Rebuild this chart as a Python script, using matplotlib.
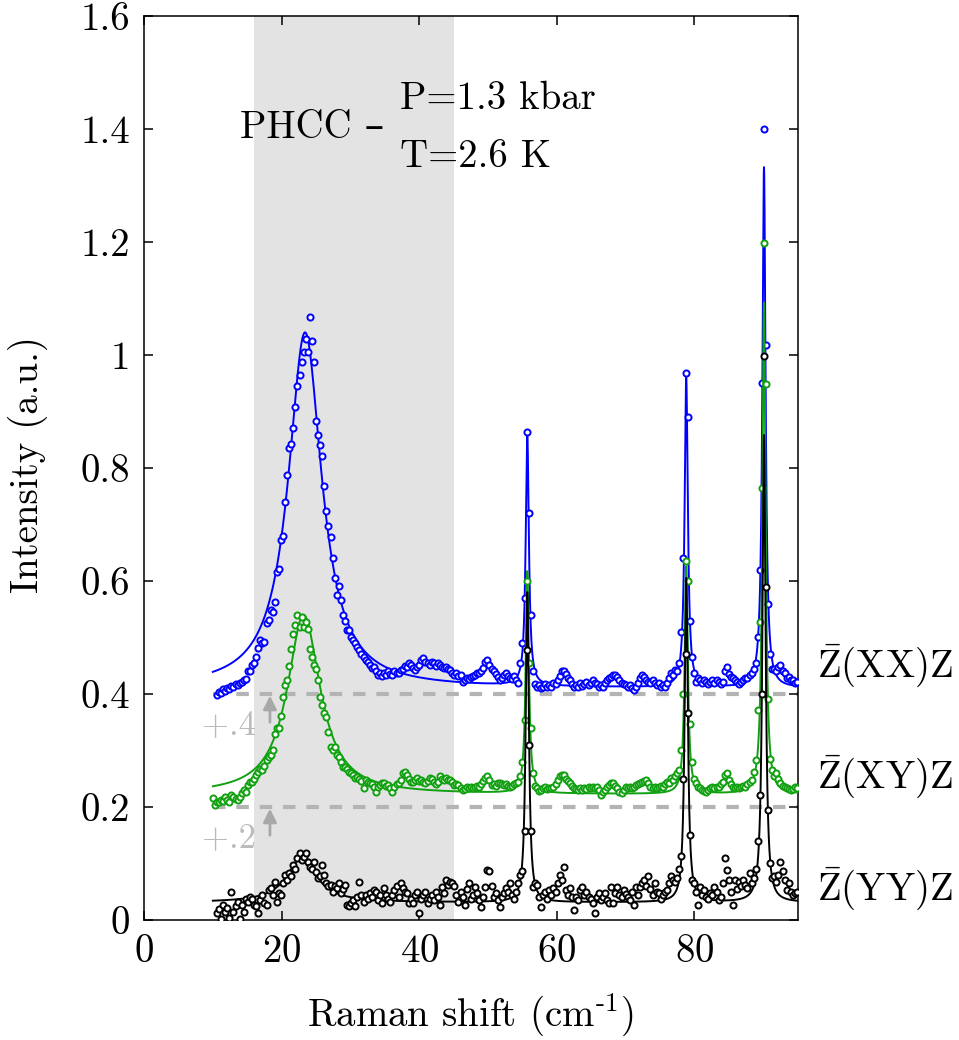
import numpy as np
import matplotlib
matplotlib.use("Agg")
import matplotlib.pyplot as plt

plt.rcParams['font.family'] = ['cmr10', 'DejaVu Serif']
plt.rcParams['mathtext.fontset'] = 'cm'
plt.rcParams['axes.formatter.use_mathtext'] = True
plt.rcParams['axes.unicode_minus'] = False

nan = np.nan
# ---------------- data ----------------
shift_start = 10.0   # cm^-1, first sample
shift_step = 0.3     # cm^-1, sampling step

xx_intensity = [
 nan, nan, 0.399, 0.404, 0.402, 0.409, 0.406, 0.411, 0.409, 0.414,
 0.412, 0.418, 0.416, 0.420, 0.422, 0.424, 0.427, 0.440, 0.441, 0.452,
 0.454, 0.466, 0.481, 0.496, 0.490, 0.492, 0.525, 0.531, 0.549, 0.546,
 0.562, 0.616, 0.622, 0.673, 0.680, 0.740, 0.788, 0.836, 0.842, 0.871,
 0.908, 0.946, 0.964, 0.987, 1.006, 1.028, 1.005, 1.068, 1.025, 0.987,
 0.884, 0.858, 0.841, 0.822, 0.768, 0.724, 0.698, 0.677, 0.640, 0.605,
 0.576, 0.592, 0.566, 0.540, 0.530, 0.513, 0.513, 0.500, 0.496, 0.490,
 0.484, 0.478, 0.470, 0.466, 0.460, 0.457, 0.452, 0.446, 0.448, 0.440,
 0.434, 0.437, 0.431, 0.437, 0.434, 0.440, 0.436, 0.434, 0.441, 0.437,
 0.437, 0.442, 0.445, 0.450, 0.448, 0.454, 0.452, 0.446, 0.442, 0.448,
 0.452, 0.460, 0.463, 0.457, 0.455, 0.451, 0.457, 0.454, 0.449, 0.454,
 0.451, 0.448, 0.446, 0.448, 0.444, 0.442, 0.438, 0.434, 0.437, 0.431,
 0.434, 0.422, 0.425, 0.428, 0.426, 0.430, 0.432, 0.434, 0.437, 0.437,
 0.440, 0.446, 0.457, 0.460, 0.452, 0.444, 0.440, 0.436, 0.430, 0.425,
 0.428, 0.434, 0.437, 0.432, 0.428, 0.426, 0.432, 0.425, 0.419, 0.455,
 0.490, 0.570, 0.863, 0.720, 0.540, 0.440, 0.418, 0.413, 0.416, 0.410,
 0.413, 0.418, 0.413, 0.416, 0.413, 0.420, 0.418, 0.425, 0.432, 0.440,
 0.440, 0.436, 0.428, 0.425, 0.418, 0.413, 0.416, 0.413, 0.420, 0.415,
 0.418, 0.422, 0.416, 0.420, 0.424, 0.420, 0.418, 0.413, 0.416, 0.413,
 0.420, 0.425, 0.428, 0.430, 0.434, 0.434, 0.430, 0.424, 0.420, 0.418,
 0.416, 0.413, 0.416, 0.410, 0.407, 0.412, 0.420, 0.428, 0.434, 0.430,
 0.425, 0.422, 0.420, 0.424, 0.420, 0.416, 0.420, 0.413, 0.416, 0.413,
 0.420, 0.428, 0.437, 0.434, 0.442, 0.440, 0.455, 0.510, 0.640, 0.969,
 0.890, 0.530, 0.465, 0.437, 0.422, 0.428, 0.425, 0.420, 0.424, 0.422,
 0.418, 0.422, 0.425, 0.420, 0.425, 0.422, 0.418, 0.422, 0.440, 0.448,
 0.436, 0.430, 0.428, 0.424, 0.422, 0.418, 0.422, 0.425, 0.428, 0.428,
 0.433, 0.437, 0.445, 0.454, 0.500, 0.620, 0.950, 1.400, 1.018, 0.560,
 0.470, 0.445, 0.445, 0.440, 0.448, 0.451, 0.440, 0.437, 0.428, 0.430,
 0.425, 0.425, 0.420, 0.422]

xy_intensity = [
 0.216, 0.204, 0.209, 0.209, 0.212, 0.210, 0.218, 0.212, 0.209, 0.221,
 0.218, 0.215, 0.212, 0.218, 0.224, 0.230, 0.226, 0.239, 0.245, 0.245,
 0.250, 0.257, 0.262, 0.268, 0.266, 0.272, 0.284, 0.288, 0.292, 0.301,
 0.330, 0.339, 0.339, 0.361, 0.395, 0.416, 0.425, 0.450, 0.479, 0.507,
 0.522, 0.540, 0.519, 0.537, 0.519, 0.528, 0.515, 0.480, 0.466, 0.451,
 0.445, 0.425, 0.395, 0.380, 0.366, 0.360, 0.333, 0.307, 0.301, 0.307,
 0.292, 0.289, 0.280, 0.271, 0.270, 0.268, 0.262, 0.260, 0.257, 0.251,
 0.253, 0.250, 0.246, 0.233, 0.248, 0.244, 0.242, 0.240, 0.236, 0.227,
 0.235, 0.239, 0.242, 0.242, 0.237, 0.239, 0.233, 0.227, 0.236, 0.240,
 0.242, 0.248, 0.260, 0.262, 0.257, 0.250, 0.245, 0.244, 0.248, 0.251,
 0.246, 0.248, 0.244, 0.242, 0.246, 0.251, 0.250, 0.245, 0.241, 0.245,
 0.254, 0.250, 0.248, 0.251, 0.247, 0.248, 0.244, 0.239, 0.241, 0.239,
 0.234, 0.230, 0.232, 0.236, 0.233, 0.235, 0.233, 0.236, 0.238, 0.236,
 0.240, 0.246, 0.251, 0.254, 0.248, 0.239, 0.241, 0.238, 0.242, 0.242,
 0.240, 0.239, 0.241, 0.238, 0.236, 0.238, 0.240, 0.242, 0.245, 0.255,
 0.280, 0.354, 0.600, 0.455, 0.339, 0.260, 0.238, 0.233, 0.228, 0.230,
 0.233, 0.236, 0.232, 0.234, 0.233, 0.236, 0.240, 0.248, 0.254, 0.257,
 0.257, 0.250, 0.246, 0.242, 0.238, 0.233, 0.232, 0.230, 0.234, 0.230,
 0.233, 0.232, 0.235, 0.233, 0.236, 0.234, 0.236, 0.230, 0.221, 0.226,
 0.230, 0.236, 0.239, 0.242, 0.242, 0.238, 0.234, 0.226, 0.224, 0.230,
 0.236, 0.233, 0.236, 0.234, 0.236, 0.239, 0.240, 0.242, 0.244, 0.246,
 0.248, 0.243, 0.236, 0.233, 0.235, 0.233, 0.236, 0.238, 0.236, 0.240,
 0.245, 0.243, 0.251, 0.248, 0.255, 0.260, 0.265, 0.300, 0.400, 0.635,
 0.600, 0.347, 0.280, 0.250, 0.242, 0.236, 0.233, 0.230, 0.229, 0.227,
 0.230, 0.233, 0.236, 0.233, 0.236, 0.236, 0.240, 0.245, 0.256, 0.260,
 0.248, 0.240, 0.236, 0.234, 0.236, 0.233, 0.236, 0.238, 0.236, 0.240,
 0.245, 0.248, 0.262, 0.283, 0.372, 0.528, 0.765, 1.199, 0.949, 0.392,
 0.285, 0.265, 0.254, 0.260, 0.250, 0.242, 0.238, 0.236, 0.233, 0.232,
 0.230, 0.232, 0.236, 0.234]

yy_intensity = [
 nan, nan, 0.012, 0.020, 0.001, 0.027, 0.015, 0.021, 0.003, 0.050,
 0.015, 0.025, 0.032, 0.002, 0.027, 0.015, 0.038, 0.032, 0.040, 0.038,
 0.027, 0.024, 0.012, 0.035, 0.044, 0.030, 0.027, 0.053, 0.056, 0.045,
 0.068, 0.032, 0.047, 0.044, 0.065, 0.080, 0.070, 0.083, 0.077, 0.097,
 0.091, 0.109, 0.118, 0.106, 0.112, 0.118, 0.103, 0.094, 0.091, 0.103,
 0.085, 0.074, 0.077, 0.097, 0.080, 0.065, 0.060, 0.062, 0.050, 0.060,
 0.056, 0.065, 0.047, 0.055, 0.062, 0.027, 0.024, 0.030, 0.035, 0.024,
 0.040, 0.068, 0.045, 0.032, 0.044, 0.038, 0.047, 0.040, 0.053, 0.050,
 0.036, 0.044, 0.030, 0.056, 0.044, 0.038, 0.032, 0.045, 0.053, 0.060,
 0.040, 0.065, 0.056, 0.050, 0.047, 0.030, 0.038, 0.030, 0.044, 0.050,
 0.012, 0.038, 0.044, 0.050, 0.030, 0.038, 0.045, 0.035, 0.050, 0.040,
 0.027, 0.059, 0.047, 0.071, 0.062, 0.068, 0.065, 0.060, 0.045, 0.032,
 0.050, 0.041, 0.027, 0.055, 0.065, 0.038, 0.045, 0.059, 0.048, 0.036,
 0.023, 0.040, 0.058, 0.089, 0.086, 0.060, 0.041, 0.047, 0.035, 0.023,
 0.040, 0.047, 0.056, 0.050, 0.065, 0.045, 0.038, 0.050, 0.065, 0.080,
 0.087, 0.158, 0.478, 0.310, 0.158, 0.059, 0.065, 0.062, 0.040, 0.023,
 0.044, 0.050, 0.038, 0.053, 0.045, 0.056, 0.050, 0.065, 0.080, 0.070,
 0.094, 0.053, 0.045, 0.056, 0.040, 0.018, 0.041, 0.035, 0.053, 0.059,
 0.045, 0.050, 0.041, 0.038, 0.030, 0.012, 0.040, 0.047, 0.035, 0.041,
 0.047, 0.035, 0.030, 0.059, 0.030, 0.047, 0.059, 0.045, 0.040, 0.053,
 0.046, 0.041, 0.035, 0.050, 0.027, 0.059, 0.045, 0.059, 0.065, 0.071,
 0.060, 0.077, 0.055, 0.044, 0.065, 0.050, 0.047, 0.038, 0.045, 0.050,
 0.053, 0.065, 0.077, 0.071, 0.068, 0.074, 0.090, 0.114, 0.250, 0.471,
 0.366, 0.150, 0.071, 0.065, 0.050, 0.027, 0.059, 0.045, 0.053, 0.041,
 0.038, 0.047, 0.044, 0.059, 0.050, 0.035, 0.041, 0.065, 0.109, 0.089,
 0.070, 0.050, 0.027, 0.071, 0.055, 0.068, 0.060, 0.071, 0.062, 0.056,
 0.083, 0.065, 0.075, 0.090, 0.139, 0.221, 0.400, 0.999, 0.590, 0.195,
 0.100, 0.075, 0.077, 0.068, 0.080, 0.103, 0.086, 0.070, 0.053, 0.065,
 0.050, 0.044, 0.048, 0.050]

# Lorentzian fit parameters
peak_centers = [23.4, 55.7, 78.8, 90.1]
xx_fit_base = 0.410
xx_fit_widths = [2.95, 0.28, 0.28, 0.28]
xx_fit_amps = [0.630, 0.443, 0.548, 0.921]
xy_fit_base = 0.222
xy_fit_centers = [23.2, 55.7, 78.8, 90.1]
xy_fit_widths = [2.9, 0.28, 0.28, 0.28]
xy_fit_amps = [0.318, 0.393, 0.403, 0.870]
yy_fit_base = 0.031
yy_fit_centers = [22.9, 55.7, 78.8, 90.1]
yy_fit_widths = [2.6, 0.28, 0.28, 0.28]
yy_fit_amps = [0.079, 0.549, 0.574, 0.827]

offsets = [0.4, 0.2]
offset_labels = ['+.4', '+.2']
series_labels = [r'$\bar{\mathrm{Z}}$(XX)Z', r'$\bar{\mathrm{Z}}$(XY)Z', r'$\bar{\mathrm{Z}}$(YY)Z']
x_ticks = [0, 20, 40, 60, 80]
y_ticks = [0, 0.2, 0.4, 0.6, 0.8, 1.0, 1.2, 1.4, 1.6]
y_tick_labels = ['0', '0.2', '0.4', '0.6', '0.8', '1', '1.2', '1.4', '1.6']
band = (16, 45)


def fit_curve(x, base, centers, widths, amps):
    y = np.full_like(x, base)
    for c, w, a in zip(centers, widths, amps):
        y += a / (1.0 + ((x - c) / w) ** 2)
    return y


# ---------------- figure ----------------
fig = plt.figure(figsize=(9.59, 10.4), dpi=100)
ax = fig.add_axes([0.1502, 0.1154, 0.6816, 0.8692])
ax.set_xlim(0, 95)
ax.set_ylim(0, 1.6)

ax.axvspan(band[0], band[1], color='#e3e3e3', lw=0, zorder=0)

for off in offsets:
    ax.hlines(off, 10, 95, colors='#b4b4b4', lw=3.0, linestyles=(0, (3.0, 2.6)), zorder=1)

xfine = np.linspace(10.0, 95.0, 6000)
series = [
    (xx_intensity, xx_fit_base, peak_centers, xx_fit_widths, xx_fit_amps, '#0000ff'),
    (xy_intensity, xy_fit_base, xy_fit_centers, xy_fit_widths, xy_fit_amps, '#10a010'),
    (yy_intensity, yy_fit_base, yy_fit_centers, yy_fit_widths, yy_fit_amps, '#000000'),
]
z = 2
for data, base, cen, wid, amp, col in series:
    xs = shift_start + shift_step * np.arange(len(data))
    ax.plot(xfine, fit_curve(xfine, base, cen, wid, amp), color=col, lw=1.4, zorder=z)
    ax.plot(xs, data, 'o', ls='none', mfc='white', mec=col, ms=4.4, mew=1.4, zorder=z + 1)
    z += 2

# offset arrows and labels
for off, lab in zip(offsets, offset_labels):
    ax.annotate('', xy=(18.3, off - 0.003), xytext=(18.3, off - 0.050),
                arrowprops=dict(arrowstyle='-|>,head_length=0.5,head_width=0.25',
                                color='#a8a8a8', lw=2.0,
                                mutation_scale=16, shrinkA=0, shrinkB=0), zorder=6)
    ax.text(8.4, off - 0.073, lab, fontsize=25, color='#bbbbbb', ha='left', va='baseline', zorder=6)

# series labels on the right
for lab, yb in zip(series_labels, [0.431, 0.233, 0.035]):
    ax.text(97.8, yb, lab, fontsize=28, ha='left', va='baseline', clip_on=False)

# annotation
ax.text(13.9, 1.3835, 'PHCC \u2013', fontsize=28, ha='left', va='baseline')
ax.text(37.2, 1.435, 'P=1.3 kbar', fontsize=28, ha='left', va='baseline')
ax.text(37.2, 1.333, 'T=2.6 K', fontsize=28, ha='left', va='baseline')

ax.set_xticks(x_ticks)
ax.set_yticks(y_ticks)
ax.set_yticklabels(y_tick_labels)
ax.tick_params(direction='in', length=6.5, width=1.1, top=True, right=True,
               labelsize=28, pad=10)
for s in ax.spines.values():
    s.set_linewidth(1.1)

ax.set_xlabel(r'Raman shift (cm$^{\text{-1}}$)', fontsize=28)
ax.set_ylabel('Intensity (a.u.)', fontsize=28)
ax.xaxis.set_label_coords(0.5, -0.08)
ax.yaxis.set_label_coords(-0.147, 0.504)

fig.savefig('out.png', dpi=100)
